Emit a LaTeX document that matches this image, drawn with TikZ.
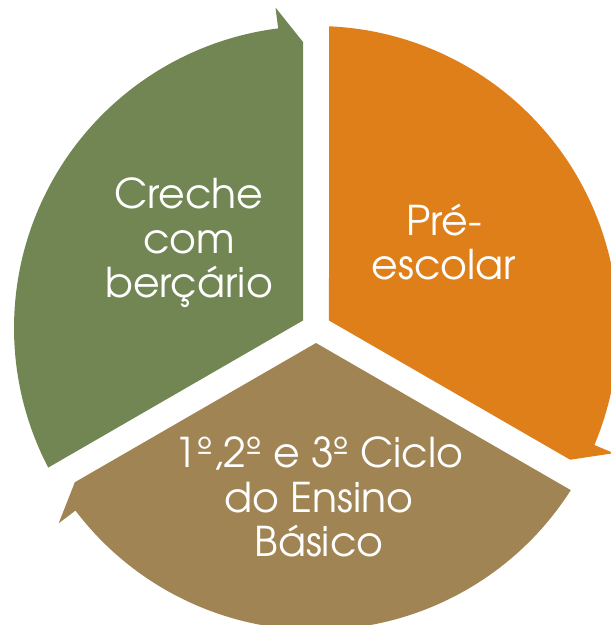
\documentclass[tikz,border=0pt]{standalone}
\usepackage{fontspec}
\setmainfont{TeX Gyre Adventor}
\definecolor{segGreen}{HTML}{728654}
\definecolor{segOrange}{HTML}{DF7F1A}
\definecolor{segBrown}{HTML}{A08453}
\tikzset{
  cycseg/.pic={
    \path[pic actions] (-13,7.5) -- (207.53:302)
      arc[start angle=207.53, end angle=97.2, radius=302]
      -- (97.2:323) -- (-13,286) -- cycle;
  },
  segtext/.style={text=white, align=center, inner sep=0pt,
    font=\fontsize{41}{44.5}\selectfont}
}
\begin{document}
\begin{tikzpicture}[x=1pt,y=1pt]
\useasboundingbox (0,0) rectangle (611,625);
\clip (0,0) rectangle (611,625);
\coordinate (ctr) at (316,297);
\pic[fill=segGreen] at (ctr) {cycseg};
\pic[fill=segOrange, rotate=-120] at (ctr) {cycseg};
\pic[fill=segBrown, rotate=120] at (ctr) {cycseg};
\node[segtext] (creche) at (189,382) {Creche\\com\\berçário};
\node[segtext] (pre) at (444,383) {Pré-\\escolar};
\node[segtext] (ciclo) at (319,128) {1º,2º e 3º Ciclo\\do Ensino\\Básico};
\end{tikzpicture}
\end{document}
